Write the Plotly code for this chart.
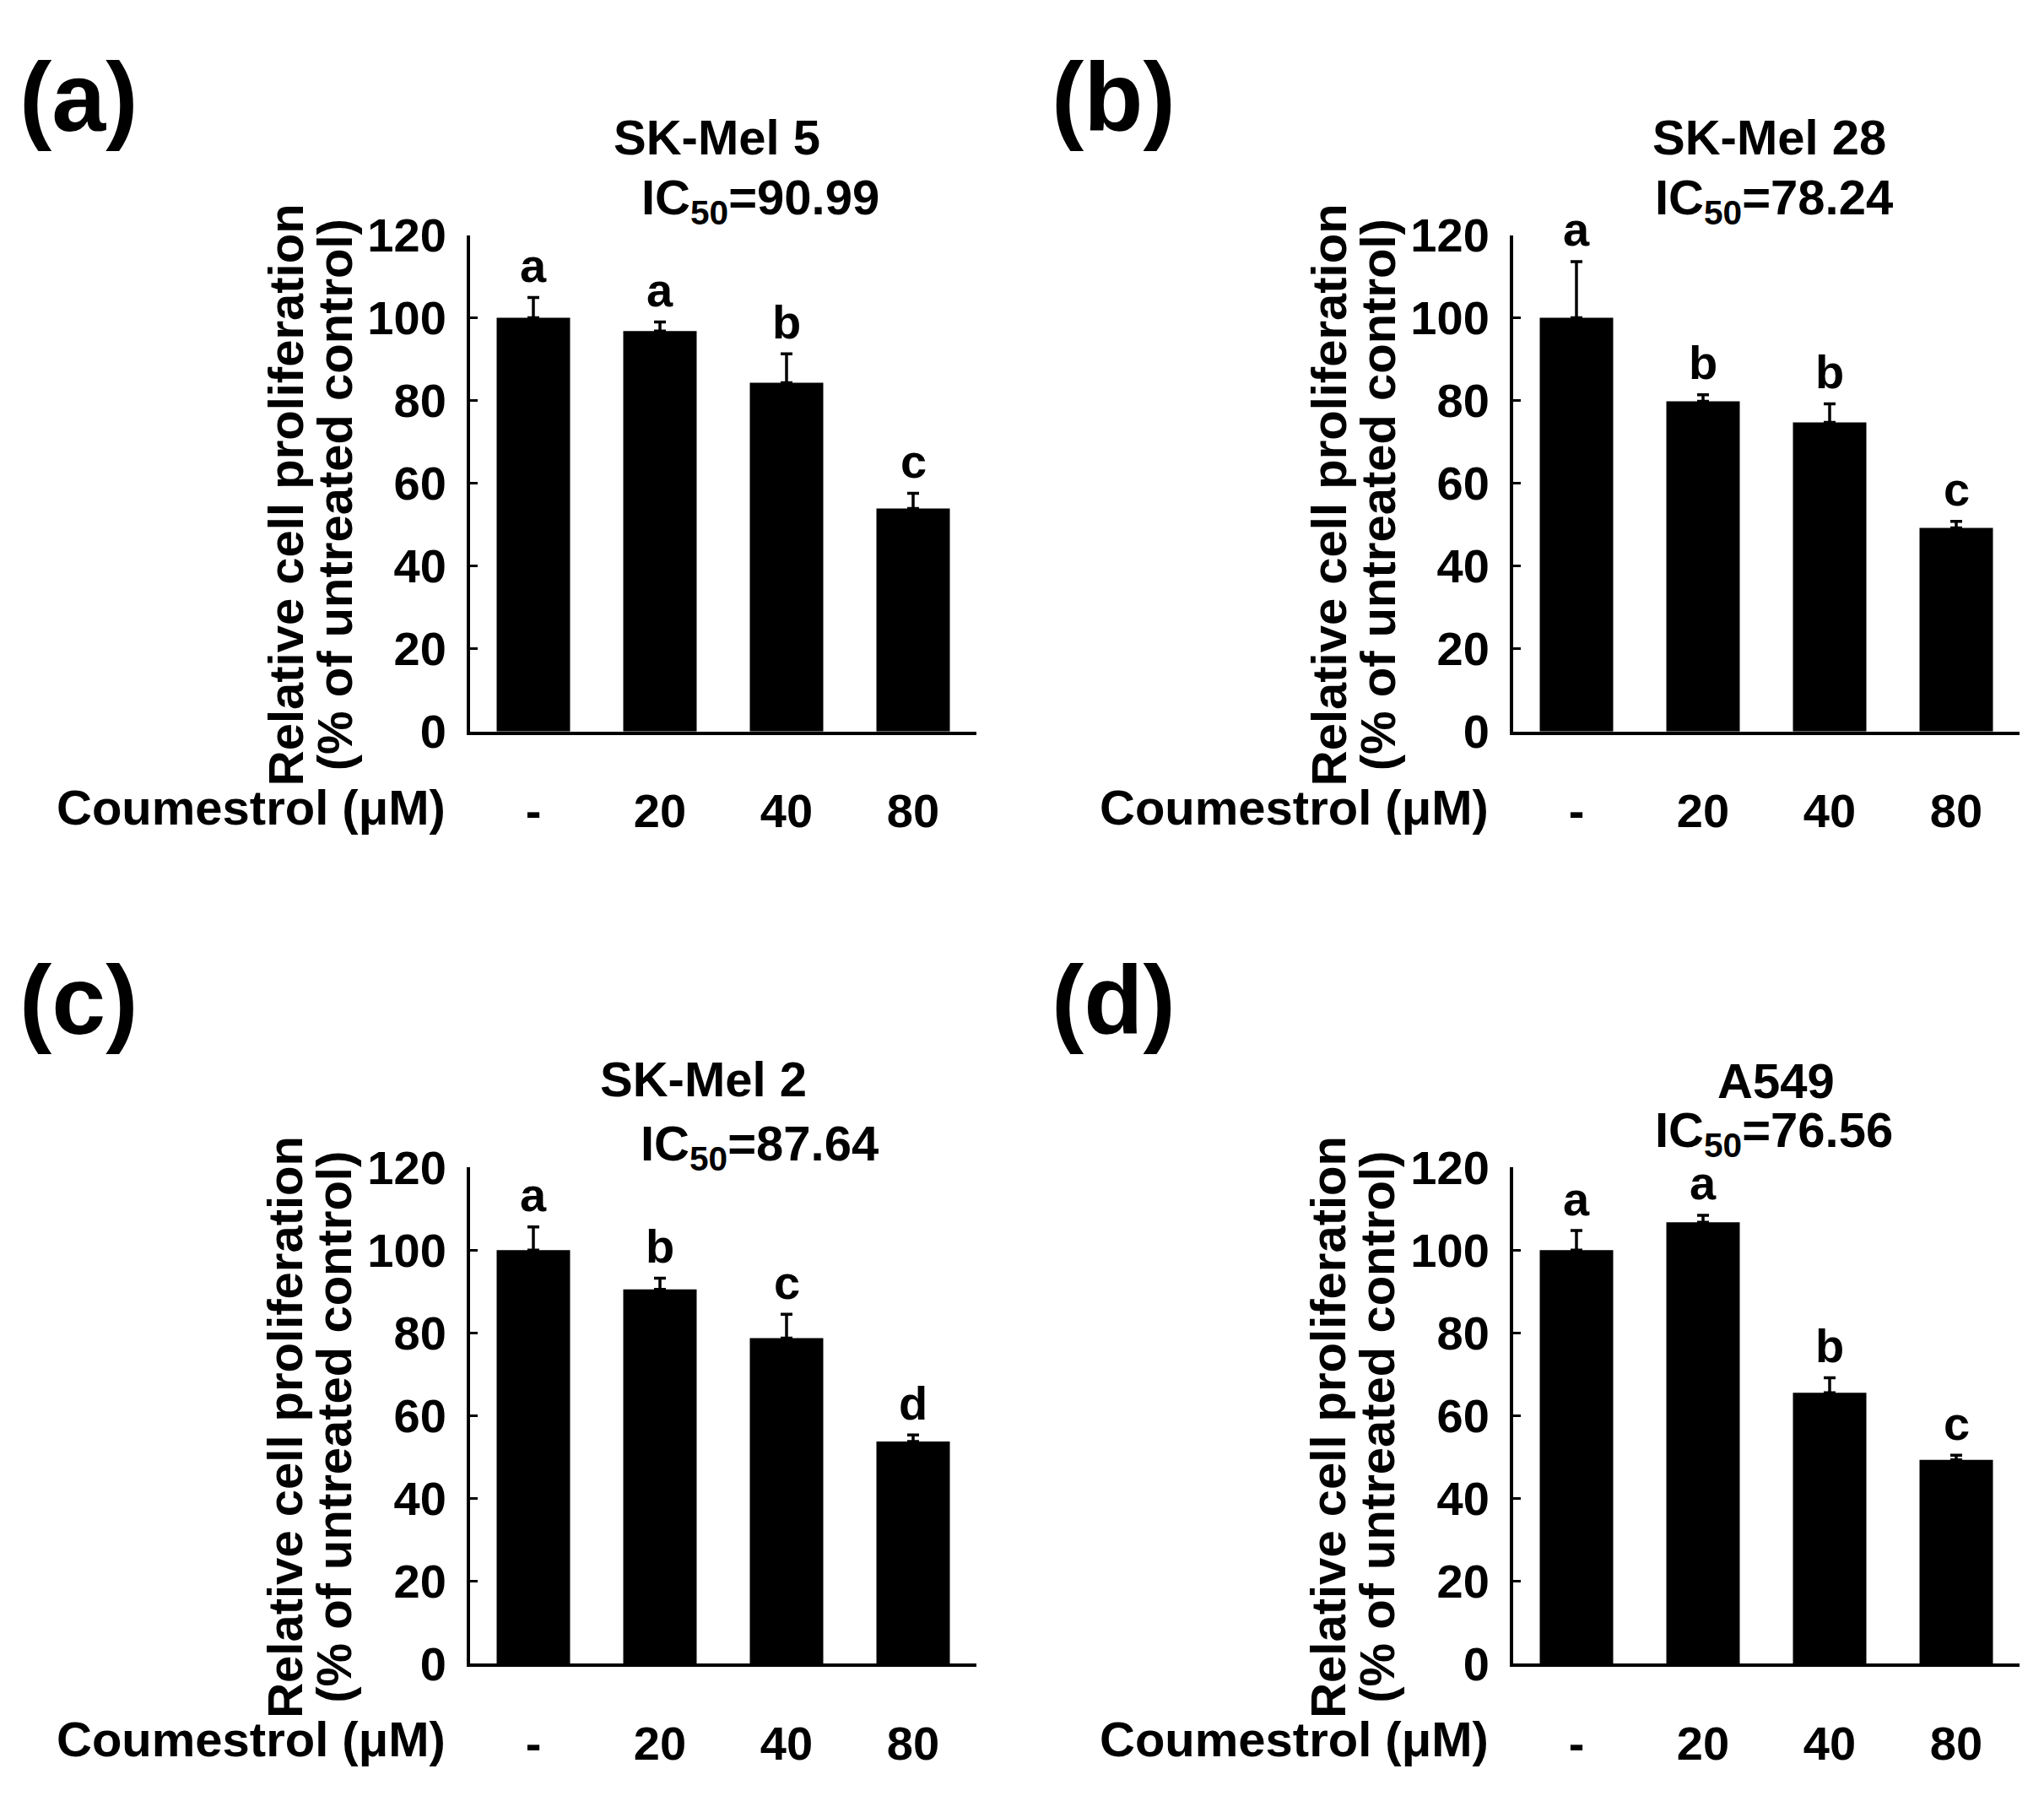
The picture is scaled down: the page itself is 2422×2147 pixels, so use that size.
import plotly.graph_objects as go

# ---------------- data ----------------
categories = ["-", "20", "40", "80"]

cell_lines = ["SK-Mel 5", "SK-Mel 28", "SK-Mel 2", "A549"]
ic50_values = ["90.99", "78.24", "87.64", "76.56"]
panel_tags = ["(a)", "(b)", "(c)", "(d)"]

means_a = [100.0, 96.8, 84.3, 53.9]
errs_a = [4.9, 2.2, 7.0, 3.7]
sig_a = ["a", "a", "b", "c"]

means_b = [100.0, 79.8, 74.7, 49.2]
errs_b = [13.6, 1.6, 4.5, 1.6]
sig_b = ["a", "b", "b", "c"]

means_c = [100.0, 90.5, 78.7, 53.7]
errs_c = [5.6, 2.7, 5.8, 1.6]
sig_c = ["a", "b", "c", "d"]

means_d = [100.0, 106.7, 65.5, 49.3]
errs_d = [4.7, 1.7, 3.6, 1.1]
sig_d = ["a", "a", "b", "c"]

y_ticks = [0, 20, 40, 60, 80, 100, 120]
y_title_1 = "Relative cell proliferation"
y_title_2 = "(% of untreated control)"
x_title = "Coumestrol (\u03bcM)"

# ---------------- layout geometry (pixels) ----------------
W, H = 2422, 2147
FONT = "Liberation Sans, Arial, sans-serif"
FS = 56      # tick labels and letters
FT = 58      # titles and axis labels

panels = [
    dict(means=means_a, errs=errs_a, sig=sig_a, xl=557, xr=1157, y0=861, y1=255,
         tx=849, icx=901, ty=135, icy=213, tagx=93, tagy=87),
    dict(means=means_b, errs=errs_b, sig=sig_b, xl=1793, xr=2393, y0=861, y1=255,
         tx=2096, icx=2102, ty=135, icy=213, tagx=1319, tagy=87),
    dict(means=means_c, errs=errs_c, sig=sig_c, xl=557, xr=1157, y0=1999, y1=1393,
         tx=833, icx=900, ty=1285, icy=1368, tagx=93, tagy=1189),
    dict(means=means_d, errs=errs_d, sig=sig_d, xl=1793, xr=2393, y0=1999, y1=1393,
         tx=2104, icx=2102, ty=1287, icy=1352, tagx=1319, tagy=1189),
]

def px(x):
    return x / W

def py(y):
    return 1 - y / H

fig = go.Figure()
annotations = []
layout_axes = {}

for i, p in enumerate(panels):
    n = i + 1
    xa = "x" if n == 1 else f"x{n}"
    ya = "y" if n == 1 else f"y{n}"
    fig.add_trace(go.Bar(
        x=categories, y=p["means"], xaxis=xa, yaxis=ya,
        marker=dict(color="black", line=dict(width=0)),
        error_y=dict(type="data", symmetric=False, array=p["errs"],
                     arrayminus=[0] * len(p["errs"]),
                     color="black", thickness=3.5, width=7),
        showlegend=False,
    ))
    xkey = "xaxis" if n == 1 else f"xaxis{n}"
    ykey = "yaxis" if n == 1 else f"yaxis{n}"
    layout_axes[xkey] = dict(
        domain=[px(p["xl"]), px(p["xr"])], anchor=ya, type="category",
        categoryorder="array", categoryarray=categories,
        range=[-0.5, 3.5], showline=True, linecolor="black", linewidth=4,
        ticks="", showgrid=False, zeroline=False,
        tickfont=dict(family=FONT, size=FS, color="black", weight="bold"),
        ticklabelstandoff=42, fixedrange=True,
    )
    layout_axes[ykey] = dict(
        domain=[py(p["y0"]), py(p["y1"])], anchor=xa,
        range=[0, 120], tickvals=y_ticks, showline=True, linecolor="black",
        linewidth=4, ticks="inside", ticklen=9, tickwidth=3, tickcolor="black",
        showgrid=False, zeroline=False,
        tickfont=dict(family=FONT, size=FS, color="black", weight="bold"),
        ticklabelstandoff=13,
    )

    # significance letters (x given as category index)
    for j, (m, e, s) in enumerate(zip(p["means"], p["errs"], p["sig"])):
        annotations.append(dict(
            x=j, y=m + e, xref=xa, yref=ya, text=s, showarrow=False,
            xanchor="center", yanchor="middle", yshift=38,
            font=dict(family=FONT, size=FS, color="black", weight="bold"),
        ))

    # titles
    annotations.append(dict(
        x=px(p["tx"]), y=py(p["ty"]), xref="paper", yref="paper",
        text=cell_lines[i], showarrow=False, xanchor="center", yanchor="middle",
        font=dict(family=FONT, size=FT, color="black", weight="bold"),
    ))
    annotations.append(dict(
        x=px(p["icx"]), y=py(p["icy"]), xref="paper", yref="paper",
        text="IC<sub>50</sub>=" + ic50_values[i], showarrow=False,
        xanchor="center", yanchor="middle",
        font=dict(family=FONT, size=FT, color="black", weight="bold"),
    ))
    # panel tag
    annotations.append(dict(
        x=px(p["tagx"]), y=py(p["tagy"]), xref="paper", yref="paper",
        text=panel_tags[i], showarrow=False, xanchor="center", yanchor="middle",
        font=dict(family=FONT, size=115, color="black", weight="bold"),
    ))
    # y-axis title (two lines)
    ymid = (p["y0"] + p["y1"]) / 2 + 14
    annotations.append(dict(
        x=px(p["xl"] - 219), y=py(ymid), xref="paper", yref="paper",
        text=y_title_1, textangle=-90, showarrow=False,
        xanchor="center", yanchor="middle",
        font=dict(family=FONT, size=FT, color="black", weight="bold"),
    ))
    annotations.append(dict(
        x=px(p["xl"] - 161), y=py(ymid), xref="paper", yref="paper",
        text=y_title_2, textangle=-90, showarrow=False,
        xanchor="center", yanchor="middle",
        font=dict(family=FONT, size=FT, color="black", weight="bold"),
    ))
    # x-axis label
    annotations.append(dict(
        x=px(p["xl"] - 27), y=py(p["y0"] + 92), xref="paper", yref="paper",
        text=x_title, showarrow=False, xanchor="right", yanchor="middle",
        font=dict(family=FONT, size=FT, color="black", weight="bold"),
    ))

fig.update_layout(
    width=W, height=H, margin=dict(l=0, r=0, t=0, b=0),
    paper_bgcolor="white", plot_bgcolor="white",
    bargap=0.42, annotations=annotations,
    font=dict(family=FONT, color="black"),
    **layout_axes,
)

fig.write_html(
    "out.html",
    config={"displayModeBar": False},
    post_script="document.body.style.margin='0';",
)
